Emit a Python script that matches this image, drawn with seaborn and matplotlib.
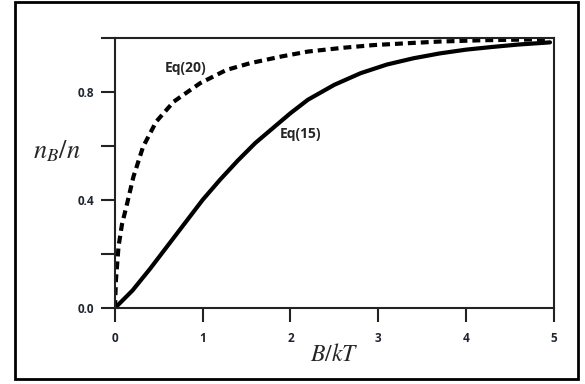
import matplotlib
matplotlib.use("Agg")
import matplotlib.pyplot as plt
import seaborn as sns
import pandas as pd
from matplotlib.patches import Rectangle

# Data
x_eq15 = [0, 0.2, 0.4, 0.6, 0.8, 1.0, 1.2, 1.4, 1.6, 1.8, 2.0, 2.2, 2.5, 2.8, 3.1, 3.4, 3.7, 4.0, 4.3, 4.6, 4.96]
y_eq15 = [0, 0.065, 0.145, 0.23, 0.315, 0.40, 0.475, 0.545, 0.61, 0.665, 0.72, 0.77, 0.825, 0.868, 0.9, 0.923, 0.941, 0.955, 0.965, 0.974, 0.982]
x_eq20 = [0, 0.01, 0.04, 0.08, 0.13, 0.21, 0.32, 0.47, 0.67, 0.97, 1.27, 1.54, 1.9, 2.2, 2.6, 2.95, 3.4, 3.7, 4.2, 4.6, 4.96]
y_eq20 = [0, 0.1, 0.227, 0.31, 0.375, 0.485, 0.596, 0.689, 0.763, 0.831, 0.88, 0.905, 0.93, 0.948, 0.962, 0.972, 0.98, 0.985, 0.99, 0.992, 0.994]
series_names = ["Eq(15)", "Eq(20)"]
x_ticks = [0, 1, 2, 3, 4, 5]
y_ticks = [0.0, 0.2, 0.4, 0.6, 0.8, 1.0]
y_tick_labels = ["0.0", "", "0.4", "", "0.8", ""]

df = pd.concat([
    pd.DataFrame({"x": x_eq15, "y": y_eq15, "eq": series_names[0]}),
    pd.DataFrame({"x": x_eq20, "y": y_eq20, "eq": series_names[1]}),
])

sns.set_style("ticks")
plt.rcParams["font.family"] = ["Open Sans", "DejaVu Sans"]
plt.rcParams["mathtext.fontset"] = "stix"

fig = plt.figure(figsize=(5.85, 3.84), dpi=100)
ax = fig.add_axes([115/585, 1-308/384, (553.5-115)/585, (308-37.5)/384])

sns.lineplot(data=df, x="x", y="y", hue="eq", style="eq",
             palette={"Eq(15)": "black", "Eq(20)": "black"},
             dashes={"Eq(15)": "", "Eq(20)": (1.9, 1.2)},
             linewidth=3.0, legend=False, ax=ax, sort=False)
for ln in ax.get_lines():
    ln.set_solid_joinstyle("round")
    ln.set_dash_joinstyle("round")

ax.set_xlim(0, 5)
ax.set_ylim(0, 1.0)
ax.set_xticks(x_ticks)
ax.set_xticklabels([str(t) for t in x_ticks])
ax.set_yticks(y_ticks)
ax.set_yticklabels(y_tick_labels)
for s in ax.spines.values():
    s.set_visible(True)
    s.set_linewidth(1.5)
    s.set_color("#222222")
ax.tick_params(axis="both", direction="out", length=10, width=1.5, color="#222222")
ax.tick_params(axis="x", pad=7)
ax.tick_params(axis="y", pad=5)
for lab in ax.get_xticklabels() + ax.get_yticklabels():
    lab.set_fontweight("bold")
    lab.set_fontsize(8.5)
    lab.set_color("#1e2430")

ax.set_xlabel("")
ax.set_ylabel("")
fig.text(334/585, 1-355/384, r"$B/kT$", ha="center", va="center", fontsize=17)
fig.text(57/585, 1-152/384, r"$n_B/n$", ha="center", va="center", fontsize=19)

ax.text(0.8, 0.887, "Eq(20)", ha="center", va="center", fontsize=10, fontweight="bold")
ax.text(2.11, 0.645, "Eq(15)", ha="center", va="center", fontsize=10, fontweight="bold")

fig.patches.append(Rectangle((15/585, 1-379/384), (578-15)/585, (379-2)/384,
                             transform=fig.transFigure, fill=False,
                             edgecolor="black", linewidth=2))

fig.savefig("out.png", dpi=100)
